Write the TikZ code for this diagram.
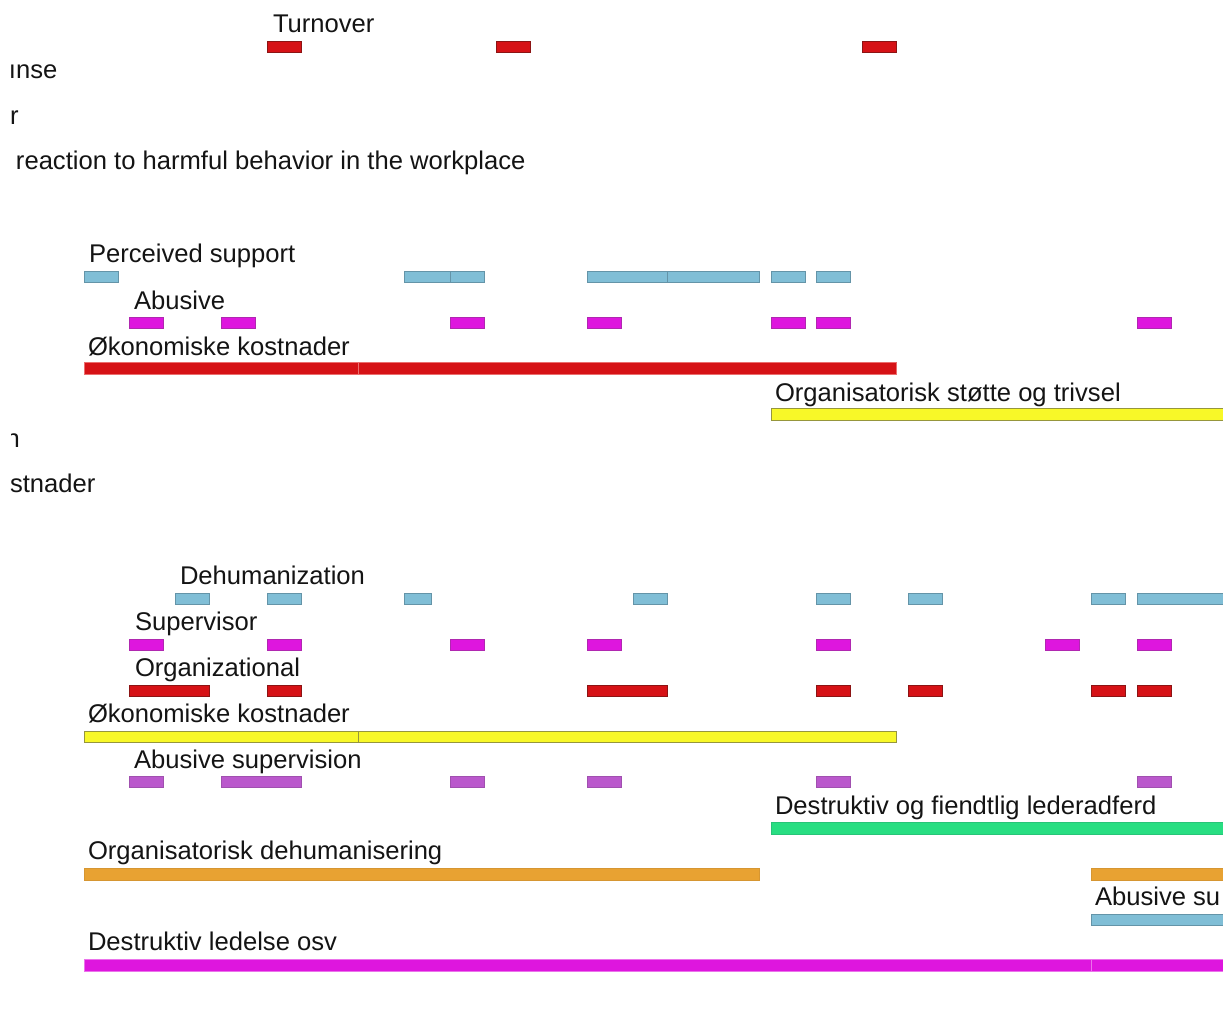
\documentclass[tikz,border=0pt]{standalone}
\usepackage{fontspec}
\setmainfont{Liberation Sans}

% stripe colours (fill / outline)
\definecolor{txt}{RGB}{20,20,20}
\definecolor{redf}{RGB}{214,18,22}
\definecolor{redd}{RGB}{140,20,20}
\definecolor{redl}{RGB}{235,110,110}
\definecolor{bluef}{RGB}{128,190,214}
\definecolor{blued}{RGB}{100,148,168}
\definecolor{magf}{RGB}{222,22,222}
\definecolor{magd}{RGB}{176,40,176}
\definecolor{purf}{RGB}{186,88,204}
\definecolor{purd}{RGB}{160,80,175}
\definecolor{yelf}{RGB}{248,248,40}
\definecolor{yeld}{RGB}{150,150,60}
\definecolor{grnf}{RGB}{40,222,130}
\definecolor{grnd}{RGB}{40,196,120}
\definecolor{orgf}{RGB}{232,162,50}
\definecolor{orgd}{RGB}{214,150,50}

\tikzset{
  lbl/.style={anchor=base west, inner sep=0pt, outer sep=0pt,
              font=\fontsize{25.6}{30}\selectfont, text=txt},
  stripe/.style={line width=0.8pt},
  redbar/.style={stripe, fill=redf, draw=redd},
  redlong/.style={stripe, fill=redf, draw=redl},
  bluebar/.style={stripe, fill=bluef, draw=blued},
  magbar/.style={stripe, fill=magf, draw=magd},
  maglong/.style={stripe, fill=magf, draw=magf!60!white},
  purbar/.style={stripe, fill=purf, draw=purd},
  yelbar/.style={stripe, fill=yelf, draw=yeld},
  grnbar/.style={stripe, fill=grnf, draw=grnd},
  orgbar/.style={stripe, fill=orgf, draw=orgd},
}

% one-cell (or multi-cell) stripes on the coding grid: cell k starts at 84+45.8k, 34 wide
\newcommand\cells[3]{%
  \foreach \a/\b in {#3}
    \draw[#1] ({84+45.8*\a},#2) rectangle ({118+45.8*\b},#2+11);}
% stripes given by explicit x extents
\newcommand\spans[3]{%
  \foreach \a/\b in {#3}
    \draw[#1] (\a,#2) rectangle (\b,#2+12);}

\begin{document}
\begin{tikzpicture}[x=1pt,y=-1pt]
\useasboundingbox (0,0) rectangle (1223,1024);
\fill[white] (0,0) rectangle (1223,1024);

\begin{scope}
\clip (0,0) rectangle (1223,1024);

% ---- upper block ----
\node[lbl] (turnover) at (273,33) {Turnover};
\cells{redbar}{41}{4/4, 9/9, 17/17}

\node[lbl] (l1) at (9,79) {ınse};
\node[lbl] (l2) at (10,125) {r};
\node[lbl] (l3) at (16,170) {reaction to harmful behavior in the workplace};

\node[lbl] (perc) at (89,263) {Perceived support};
\cells{bluebar}{271}{0/0, 8/8, 15/15, 16/16}
\draw[bluebar] (404.6,271) rectangle (450.4,282);
\draw[bluebar] (587.8,271) rectangle (667.6,282);
\draw[bluebar] (667.6,271) rectangle (759.2,282);

\node[lbl] (abus) at (134,309) {Abusive};
\cells{magbar}{317}{1/1, 3/3, 8/8, 11/11, 15/15, 16/16, 23/23}

\node[lbl] (okon1) at (88,355) {Økonomiske kostnader};
\spans{redlong}{362}{84/358.8, 358.8/896.6}

\node[lbl] (stotte) at (775,401) {Organisatorisk støtte og trivsel};
\spans{yelbar}{408}{771/1240}

\begin{scope}
\clip (11,420) rectangle (60,460);
\node[lbl] (l4) at (5.5,447) {n};
\end{scope}
\node[lbl] (l5) at (10,492) {stnader};

% ---- lower block ----
\node[lbl] (dehum) at (180,584) {Dehumanization};
\cells{bluebar}{593}{2/2, 4/4, 12/12, 16/16, 18/18, 22/22}
\draw[bluebar] (404.6,593) rectangle (431,604);
\draw[bluebar] (1137.4,593) rectangle (1240,604);

\node[lbl] (superv) at (135,630) {Supervisor};
\cells{magbar}{639}{1/1, 4/4, 8/8, 11/11, 16/16, 21/21, 23/23}

\node[lbl] (orgal) at (135,676) {Organizational};
\cells{redbar}{685}{1/2, 4/4, 11/12, 16/16, 18/18, 22/22, 23/23}

\node[lbl] (okon2) at (88,722) {Økonomiske kostnader};
\draw[yelbar] (84,731) rectangle (358.8,742);
\draw[yelbar] (358.8,731) rectangle (896.6,742);

\node[lbl] (abussup) at (134,768) {Abusive supervision};
\cells{purbar}{776}{1/1, 3/4, 8/8, 11/11, 16/16, 23/23}

\node[lbl] (fiendtlig) at (775,814) {Destruktiv og fiendtlig lederadferd};
\spans{grnbar}{822}{771/1240}

\node[lbl] (dehumnor) at (88,859) {Organisatorisk dehumanisering};
\spans{orgbar}{868}{84/759.2, 1091.6/1240}

\node[lbl] (abussu) at (1095,905) {Abusive su};
\draw[bluebar] (1091.6,914) rectangle (1240,925);

\node[lbl] (destr) at (88,950) {Destruktiv ledelse osv};
\spans{maglong}{959}{84/1091.6, 1091.6/1240}
\end{scope}
\end{tikzpicture}
\end{document}
